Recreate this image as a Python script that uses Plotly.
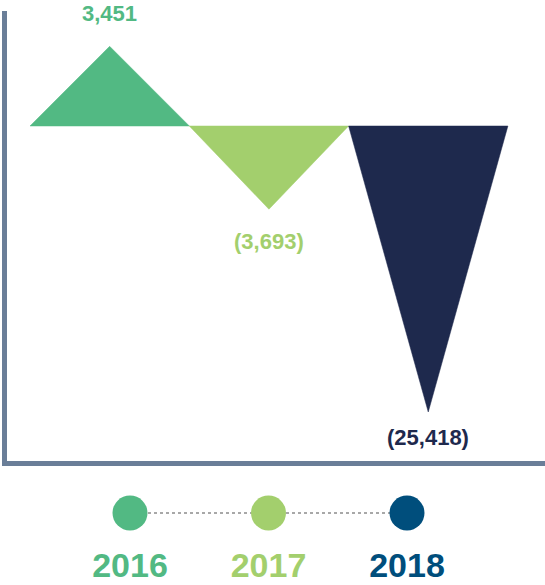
import plotly.graph_objects as go

years = ["2016", "2017", "2018"]
values = [3451, -3693, -25418]
labels = ["3,451", "(3,693)", "(25,418)"]
tri_colors = ["#52B983", "#A3CF6D", "#1E294D"]
year_colors = ["#52B983", "#A3CF6D", "#004E7C"]
label_colors = ["#52B983", "#A3CF6D", "#1E294D"]
label_shift = [33, -32, -25]

EXP = 0.64  # display scaling of the triangle heights
def h(v):
    return (1 if v >= 0 else -1) * abs(v) ** EXP

W, H = 545, 585
fig = go.Figure()

# triangles
for i, (v, c) in enumerate(zip(values, tri_colors)):
    fig.add_trace(go.Scatter(
        x=[i, i + 0.5, i + 1, i], y=[0, h(v), 0, 0],
        fill="toself", fillcolor=c, mode="lines",
        line=dict(width=0.5, color=c), hoverinfo="skip", showlegend=False))

for i, (v, t, c, s) in enumerate(zip(values, labels, label_colors, label_shift)):
    fig.add_annotation(x=i + 0.5, y=h(v), text=f"<b>{t}</b>", showarrow=False,
                       yshift=s, xref="x", yref="y",
                       font=dict(family="Liberation Sans, Arial", size=22, color=c))

# timeline
fig.add_trace(go.Scatter(x=[0, len(years) - 1], y=[0, 0], xaxis="x2", yaxis="y2",
                         mode="lines", line=dict(color="#A8A8A8", width=2, dash="dot"),
                         hoverinfo="skip", showlegend=False))
fig.add_trace(go.Scatter(x=list(range(len(years))), y=[0] * len(years),
                         xaxis="x2", yaxis="y2", mode="markers",
                         marker=dict(size=35, color=year_colors, line=dict(width=0)),
                         hoverinfo="skip", showlegend=False))
fig.add_trace(go.Scatter(x=list(range(len(years))), y=[-1] * len(years),
                         xaxis="x2", yaxis="y2", mode="text",
                         text=[f"<b>{y}</b>" for y in years],
                         textfont=dict(family="Liberation Sans, Arial", size=34, color=year_colors),
                         hoverinfo="skip", showlegend=False))

# scales
px_per_x = 159.3
x0_px = 30.0
px_per_y = 286.0 / abs(h(min(values)))
base_px = 126.0

fig.update_layout(
    width=W, height=H, margin=dict(l=0, r=0, t=0, b=0),
    paper_bgcolor="white", plot_bgcolor="rgba(0,0,0,0)",
    xaxis=dict(range=[-x0_px / px_per_x, (W - x0_px) / px_per_x], visible=False, domain=[0, 1]),
    yaxis=dict(range=[-(H - base_px) / px_per_y, base_px / px_per_y], visible=False, domain=[0, 1]),
    xaxis2=dict(range=[-130 / 138.5, (W - 130) / 138.5], visible=False, domain=[0, 1], anchor="y2"),
    yaxis2=dict(range=[-(H - 513) / 55.0, 513 / 55.0], visible=False, domain=[0, 1], anchor="x2"),
    shapes=[
        dict(type="line", xref="paper", yref="paper", x0=4.5 / W, x1=4.5 / W,
             y0=1 - 11 / H, y1=1 - 466 / H, line=dict(color="#6A7E98", width=5)),
        dict(type="line", xref="paper", yref="paper", x0=2 / W, x1=1,
             y0=1 - 463.5 / H, y1=1 - 463.5 / H, line=dict(color="#6A7E98", width=5)),
    ],
)

fig.write_html("out.html")
